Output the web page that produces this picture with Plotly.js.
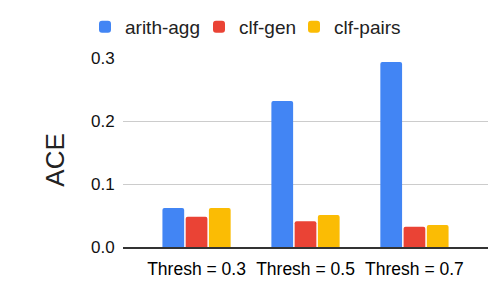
<!DOCTYPE html>
<html>
<head>
<meta charset="utf-8">
<script src="https://cdn.plot.ly/plotly-3.0.1.min.js"></script>
<style>html,body{margin:0;padding:0;background:#fff;}#chart{width:502px;height:292px;}</style>
</head>
<body>
<div id="chart"></div>
<script>
const categories = ["Thresh = 0.3", "Thresh = 0.5", "Thresh = 0.7"];
const seriesNames = ["arith-agg", "clf-gen", "clf-pairs"];
const arithAgg = [0.062, 0.232, 0.294];
const clfGen = [0.048, 0.041, 0.032];
const clfPairs = [0.062, 0.051, 0.035];
const colors = ["#4285F4", "#EA4335", "#FBBC04"];
const yTicks = [0, 0.1, 0.2, 0.3];
const yTickText = ["0.0", "0.1", "0.2", "0.3"];
const yTitle = "ACE";

const values = [arithAgg, clfGen, clfPairs];
const legendIds = ["legend", "legend2", "legend3"];
const legendX = [85, 199, 294];

const traces = seriesNames.map((name, i) => ({
  type: "bar",
  name: name,
  x: categories,
  y: values[i],
  legend: legendIds[i],
  marker: {color: colors[i], line: {width: 0}},
  hoverinfo: "none"
}));

const font = "Liberation Sans, Arial, sans-serif";
const layout = {
  width: 502, height: 292,
  margin: {l: 123, r: 14, t: 58, b: 45, pad: 0},
  paper_bgcolor: "#fff", plot_bgcolor: "#fff",
  font: {family: font, color: "#222"},
  barmode: "group",
  bargap: 0.36,
  bargroupgap: 0.065,
  barcornerradius: 2,
  showlegend: true,
  xaxis: {
    type: "category",
    range: [-0.675, 2.675],
    showgrid: false,
    zeroline: false,
    showline: true, linecolor: "#333", linewidth: 1.5,
    ticks: "outside", ticklen: 5, tickcolor: "rgba(0,0,0,0)",
    tickfont: {family: font, size: 17.5, color: "#000"},
    fixedrange: true
  },
  yaxis: {
    range: [0, 0.3005],
    tickvals: yTicks, ticktext: yTickText,
    showgrid: true, gridcolor: "#cccccc", gridwidth: 1,
    zeroline: false, showline: false,
    ticks: "outside", ticklen: 4, tickcolor: "rgba(0,0,0,0)",
    tickfont: {family: font, size: 17, color: "#111"},
    fixedrange: true
  },
  annotations: [{
    text: yTitle,
    xref: "paper", yref: "paper",
    x: (54.7 - 123) / 365, y: (247 - 160) / 189,
    xanchor: "center", yanchor: "middle",
    textangle: -90,
    showarrow: false,
    font: {family: font, size: 26, color: "#222"}
  }]
};

legendIds.forEach((id, i) => {
  layout[id] = {
    orientation: "h",
    xref: "container", yref: "container",
    x: legendX[i] / 502, xanchor: "left",
    y: 1 - 27 / 292, yanchor: "middle",
    font: {family: font, size: 19, color: "#222"},
    itemwidth: 30,
    bgcolor: "rgba(0,0,0,0)"
  };
});

Plotly.newPlot("chart", traces, layout, {staticPlot: true, displayModeBar: false});
</script>
</body>
</html>
